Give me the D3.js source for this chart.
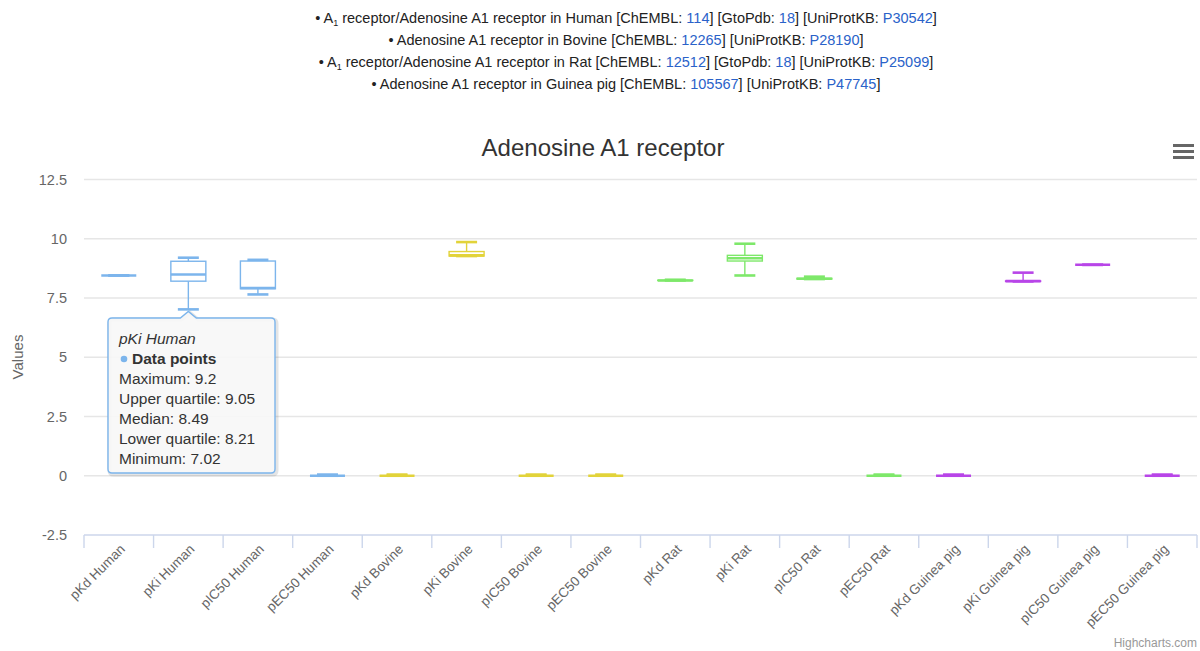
<!DOCTYPE html>
<html><head><meta charset="utf-8">
<script src="https://cdn.jsdelivr.net/npm/d3@7"></script>
<style>
body{margin:0;background:#fff;font-family:"Liberation Sans",Arial,sans-serif;}
svg{display:block;}
</style></head>
<body><svg id="c" width="1200" height="651"></svg>
<script>
const categories = ["pKd Human","pKi Human","pIC50 Human","pEC50 Human","pKd Bovine","pKi Bovine","pIC50 Bovine","pEC50 Bovine","pKd Rat","pKi Rat","pIC50 Rat","pEC50 Rat","pKd Guinea pig","pKi Guinea pig","pIC50 Guinea pig","pEC50 Guinea pig"];
const species = ["Human","Human","Human","Human","Bovine","Bovine","Bovine","Bovine","Rat","Rat","Rat","Rat","Guinea pig","Guinea pig","Guinea pig","Guinea pig"];
// [min, q1, median, q3, max]
const minimum = [8.45, 7.02, 7.65, 0, 0, 9.27, 0, 0, 8.24, 8.45, 8.30, 0, 0, 8.20, 8.90, 0];
const lowerQ  = [8.45, 8.21, 7.89, 0, 0, 9.27, 0, 0, 8.24, 9.06, 8.30, 0, 0, 8.20, 8.90, 0];
const median  = [8.45, 8.49, 7.92, 0, 0, 9.30, 0, 0, 8.24, 9.18, 8.31, 0, 0, 8.21, 8.90, 0];
const upperQ  = [8.45, 9.05, 9.06, 0, 0, 9.46, 0, 0, 8.25, 9.30, 8.33, 0, 0, 8.22, 8.90, 0];
const maximum = [8.45, 9.20, 9.11, 0.05, 0.05, 9.86, 0.05, 0.05, 8.27, 9.79, 8.40, 0.05, 0.05, 8.57, 8.90, 0.05];
const yTicks = [-2.5, 0, 2.5, 5, 7.5, 10, 12.5];
const yTickLabels = ["-2.5", "0", "2.5", "5", "7.5", "10", "12.5"];
const speciesColors = {"Human":"#7cb5ec","Bovine":"#e2d33a","Rat":"#7ee86a","Guinea pig":"#b845e8"};
const headerLines = [
  {pre:"A", sub:"1", text:" receptor/Adenosine A1 receptor in Human", chembl:"114", gtop:"18", uni:"P30542"},
  {pre:"", sub:"", text:"Adenosine A1 receptor in Bovine", chembl:"12265", gtop:null, uni:"P28190"},
  {pre:"A", sub:"1", text:" receptor/Adenosine A1 receptor in Rat", chembl:"12512", gtop:"18", uni:"P25099"},
  {pre:"", sub:"", text:"Adenosine A1 receptor in Guinea pig", chembl:"105567", gtop:null, uni:"P47745"}
];
const tooltipIndex = 1;

const svg = d3.select("#c");
const plotL = 84, plotR = 1197, plotT = 179.5, plotB = 535;

// header
const linkC = "#2a62c9", txtC = "#222";
headerLines.forEach((h,i)=>{
  const t = svg.append("text").attr("x",626).attr("y",23+i*22).attr("text-anchor","middle")
    .attr("font-size",14.5).attr("fill",txtC);
  t.append("tspan").text("\u2022 ");
  if(h.pre){ t.append("tspan").text(h.pre); t.append("tspan").attr("font-size",9).attr("dy",3).text(h.sub); t.append("tspan").attr("dy",-3).text(h.text);}
  else t.append("tspan").text(h.text);
  t.append("tspan").text(" [ChEMBL: ");
  t.append("tspan").attr("fill",linkC).text(h.chembl);
  t.append("tspan").text("]");
  if(h.gtop){ t.append("tspan").text(" [GtoPdb: "); t.append("tspan").attr("fill",linkC).text(h.gtop); t.append("tspan").text("]"); }
  t.append("tspan").text(" [UniProtKB: ");
  t.append("tspan").attr("fill",linkC).text(h.uni);
  t.append("tspan").text("]");
});

// title
svg.append("text").attr("x",603).attr("y",156).attr("text-anchor","middle")
  .attr("font-size",24).attr("fill","#333").text("Adenosine A1 receptor");
// menu icon
[0,6,12].forEach(d=>svg.append("rect").attr("x",1173).attr("y",144+d).attr("width",21).attr("height",3).attr("fill","#666"));

const x = d3.scaleBand().domain(categories).range([plotL,plotR]);
const y = d3.scaleLinear().domain([-2.5,12.5]).range([plotB,plotT]);

// grid
svg.append("g").selectAll("line").data(yTicks.filter(v=>v>-2.5)).join("line")
  .attr("x1",plotL).attr("x2",plotR).attr("y1",d=>y(d)).attr("y2",d=>y(d))
  .attr("stroke","#e6e6e6").attr("stroke-width",1.4);
// y labels
svg.append("g").selectAll("text").data(yTicks).join("text")
  .attr("x",67).attr("y",d=>y(d)+5).attr("text-anchor","end").attr("font-size",14.5).attr("fill","#666")
  .text((d,i)=>yTickLabels[i]);
svg.append("text").attr("transform","translate(23,357) rotate(-90)").attr("text-anchor","middle")
  .attr("font-size",15).attr("fill","#666").text("Values");

// x axis
const xa = svg.append("g").attr("transform",`translate(0,${plotB})`)
  .call(d3.axisBottom(x).tickSize(0).tickFormat(""));
xa.select(".domain").attr("stroke","#ccd6eb").attr("stroke-width",1.4).attr("d",`M${plotL},0H${plotR}`);
const tickPos = categories.map(c=>x(c)).concat([plotR]);
svg.append("g").selectAll("line").data(tickPos).join("line")
  .attr("x1",d=>d).attr("x2",d=>d).attr("y1",plotB).attr("y2",plotB+13)
  .attr("stroke","#ccd6eb").attr("stroke-width",1.4);
svg.append("g").selectAll("text").data(categories).join("text")
  .attr("transform",c=>`translate(${x(c)+x.bandwidth()/2+7},${plotB+15}) rotate(-45)`)
  .attr("text-anchor","end").attr("font-size",13.5).attr("fill","#666").text(c=>c);

// boxes
const bw = 35;
const g = svg.append("g");
categories.forEach((c,i)=>{
  const col = speciesColors[species[i]];
  const cx = x(c)+x.bandwidth()/2;
  const gg = g.append("g").attr("stroke",col).attr("fill","none");
  const yq1=y(lowerQ[i]), yq3=y(upperQ[i]), ymin=y(minimum[i]), ymax=y(maximum[i]), ymed=y(median[i]);
  gg.append("line").attr("x1",cx).attr("x2",cx).attr("y1",ymax).attr("y2",yq3).attr("stroke-width",1.4);
  gg.append("line").attr("x1",cx).attr("x2",cx).attr("y1",yq1).attr("y2",ymin).attr("stroke-width",1.4);
  gg.append("rect").attr("x",cx-bw/2).attr("y",yq3).attr("width",bw).attr("height",Math.max(0,yq1-yq3))
    .attr("fill","#fff").attr("stroke-width",1.4);
  gg.append("line").attr("x1",cx-bw*0.3).attr("x2",cx+bw*0.3).attr("y1",ymax).attr("y2",ymax).attr("stroke-width",2.6);
  gg.append("line").attr("x1",cx-bw*0.3).attr("x2",cx+bw*0.3).attr("y1",ymin).attr("y2",ymin).attr("stroke-width",2.6);
  gg.append("line").attr("x1",cx-bw/2).attr("x2",cx+bw/2).attr("y1",ymed).attr("y2",ymed).attr("stroke-width",2.6);
});

// tooltip
const ti = tooltipIndex;
const tcol = speciesColors[species[ti]];
const tx = x(categories[ti])+x.bandwidth()/2, ty = y(minimum[ti]);
const bx=108, by=318, bwid=167, bh=155, r=4;
const tpath = `M${bx+r},${by} L${tx-8},${by} L${tx},${ty+2} L${tx+8},${by} L${bx+bwid-r},${by} Q${bx+bwid},${by} ${bx+bwid},${by+r} L${bx+bwid},${by+bh-r} Q${bx+bwid},${by+bh} ${bx+bwid-r},${by+bh} L${bx+r},${by+bh} Q${bx},${by+bh} ${bx},${by+bh-r} L${bx},${by+r} Q${bx},${by} ${bx+r},${by}Z`;
svg.append("path").attr("d",tpath).attr("transform","translate(1.5,1.5)").attr("fill","none").attr("stroke","rgba(0,0,0,0.1)").attr("stroke-width",4);
svg.append("path").attr("d",tpath).attr("fill","rgba(247,247,247,0.92)").attr("stroke",tcol).attr("stroke-width",1.4);
const tt = svg.append("g").attr("font-size",15.5).attr("fill","#333");
tt.append("text").attr("x",119).attr("y",344).attr("font-style","italic").text(categories[ti]);
tt.append("circle").attr("cx",124).attr("cy",359).attr("r",3.3).attr("fill",tcol);
tt.append("text").attr("x",132).attr("y",364).attr("font-weight","bold").text("Data points");
const rows = [["Maximum",maximum[ti]],["Upper quartile",upperQ[ti]],["Median",median[ti]],["Lower quartile",lowerQ[ti]],["Minimum",minimum[ti]]];
rows.forEach((row,k)=>tt.append("text").attr("x",119).attr("y",384+k*20).text(`${row[0]}: ${row[1]}`));

// credit
svg.append("text").attr("x",1197).attr("y",647).attr("text-anchor","end").attr("font-size",12).attr("fill","#999").text("Highcharts.com");
</script></body></html>
